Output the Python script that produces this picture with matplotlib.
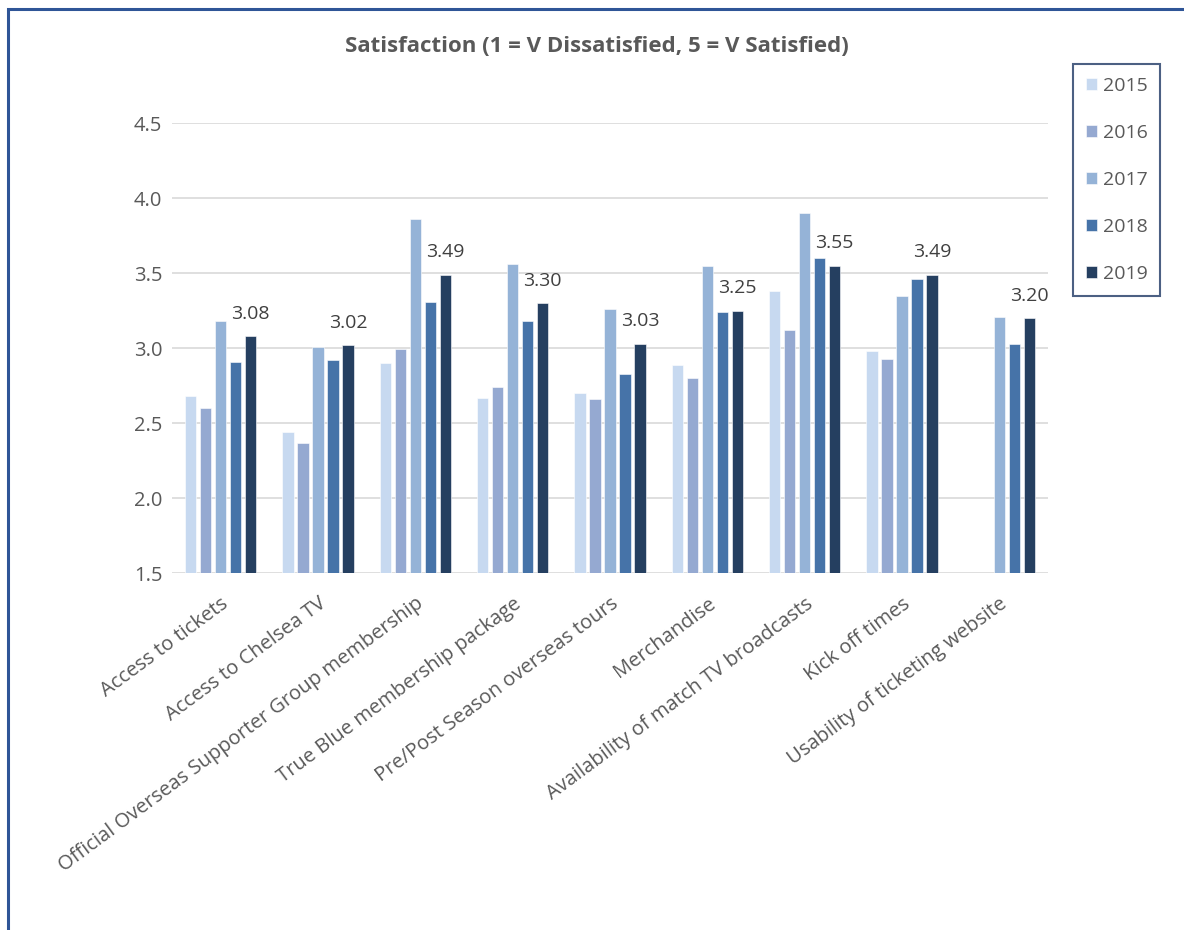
import matplotlib.pyplot as plt
import numpy as np
from matplotlib.patches import Rectangle

plt.rcParams['font.family'] = ['Open Sans', 'DejaVu Sans']

categories = ['Access to tickets', 'Access to Chelsea TV',
              'Official Overseas Supporter Group membership',
              'True Blue membership package', 'Pre/Post Season overseas tours',
              'Merchandise', 'Availability of match TV broadcasts',
              'Kick off times', 'Usability of ticketing website']
years = ['2015', '2016', '2017', '2018', '2019']

s2015 = [2.68, 2.44, 2.90, 2.67, 2.70, 2.89, 3.38, 2.98, np.nan]
s2016 = [2.60, 2.37, 2.99, 2.74, 2.66, 2.80, 3.12, 2.93, np.nan]
s2017 = [3.18, 3.01, 3.86, 3.56, 3.26, 3.55, 3.90, 3.35, 3.21]
s2018 = [2.91, 2.92, 3.31, 3.18, 2.83, 3.24, 3.60, 3.46, 3.03]
s2019 = [3.08, 3.02, 3.49, 3.30, 3.03, 3.25, 3.55, 3.49, 3.20]

series = [s2015, s2016, s2017, s2018, s2019]
colors = ['#C7D9F0', '#95A9D1', '#95B3D7', '#4673A8', '#253F60']

fig = plt.figure(figsize=(11.84, 9.30), dpi=100)
ax = fig.add_axes([172/1184, 1 - 573/930, 876/1184, 450/930])

x = np.arange(len(categories))
pitch = 0.154
width = 0.118
for i, (vals, c, yr) in enumerate(zip(series, colors, years)):
    offs = (i - 2) * pitch
    ax.bar(x + offs, vals, width, bottom=0, color=c, label=yr,
           edgecolor='white', linewidth=0.4, zorder=3)
    if yr == '2019':
        # only the latest year gets value labels
        for xi, v in zip(x, vals):
            ax.annotate(f'{v:.2f}', (xi + offs, v), xytext=(0, 16),
                        textcoords='offset points', ha='center', va='center',
                        fontsize=14, color='#404040')

ax.set_ylim(1.5, 4.5)
ax.set_xlim(-0.5, len(categories) - 0.5)
ax.set_yticks(np.arange(1.5, 4.51, 0.5))
ax.set_yticklabels([f'{t:.1f}' for t in np.arange(1.5, 4.51, 0.5)])
ax.yaxis.grid(True, color='#D9D9D9', linewidth=1.2, zorder=0)
ax.set_axisbelow(True)
for s in ax.spines.values():
    s.set_visible(False)
ax.tick_params(axis='both', length=0, labelsize=14.5, colors='#595959')
ax.tick_params(axis='y', pad=7)
ax.set_xticks(x)
ax.set_xticklabels(categories, rotation=36.5, ha='right', va='top',
                   rotation_mode='anchor')
ax.tick_params(axis='x', pad=15)

fig.text(0.504, 1 - 47/930, 'Satisfaction (1 = V Dissatisfied, 5 = V Satisfied)',
         ha='center', va='center', fontsize=16, fontweight='bold',
         color='#595959')

leg = fig.legend(loc='upper left', bbox_to_anchor=(1073/1184, 1 - 64/930),
                 frameon=True, fancybox=False, fontsize=14,
                 handlelength=0.57, handleheight=0.57, handletextpad=0.3,
                 labelspacing=1.5, borderpad=0.65, borderaxespad=0)
leg.get_frame().set_edgecolor('#1F3864')
leg.get_frame().set_linewidth(1.5)
for t in leg.get_texts():
    t.set_color('#595959')

# outer frame, runs off the right and bottom edges
fig.patches.append(Rectangle((7.5/1184, -0.05), 1.1, 1 - 9/930 + 0.05,
                             transform=fig.transFigure, fill=False,
                             edgecolor='#2F5597', linewidth=2.2))

fig.savefig('out.png', dpi=100)
